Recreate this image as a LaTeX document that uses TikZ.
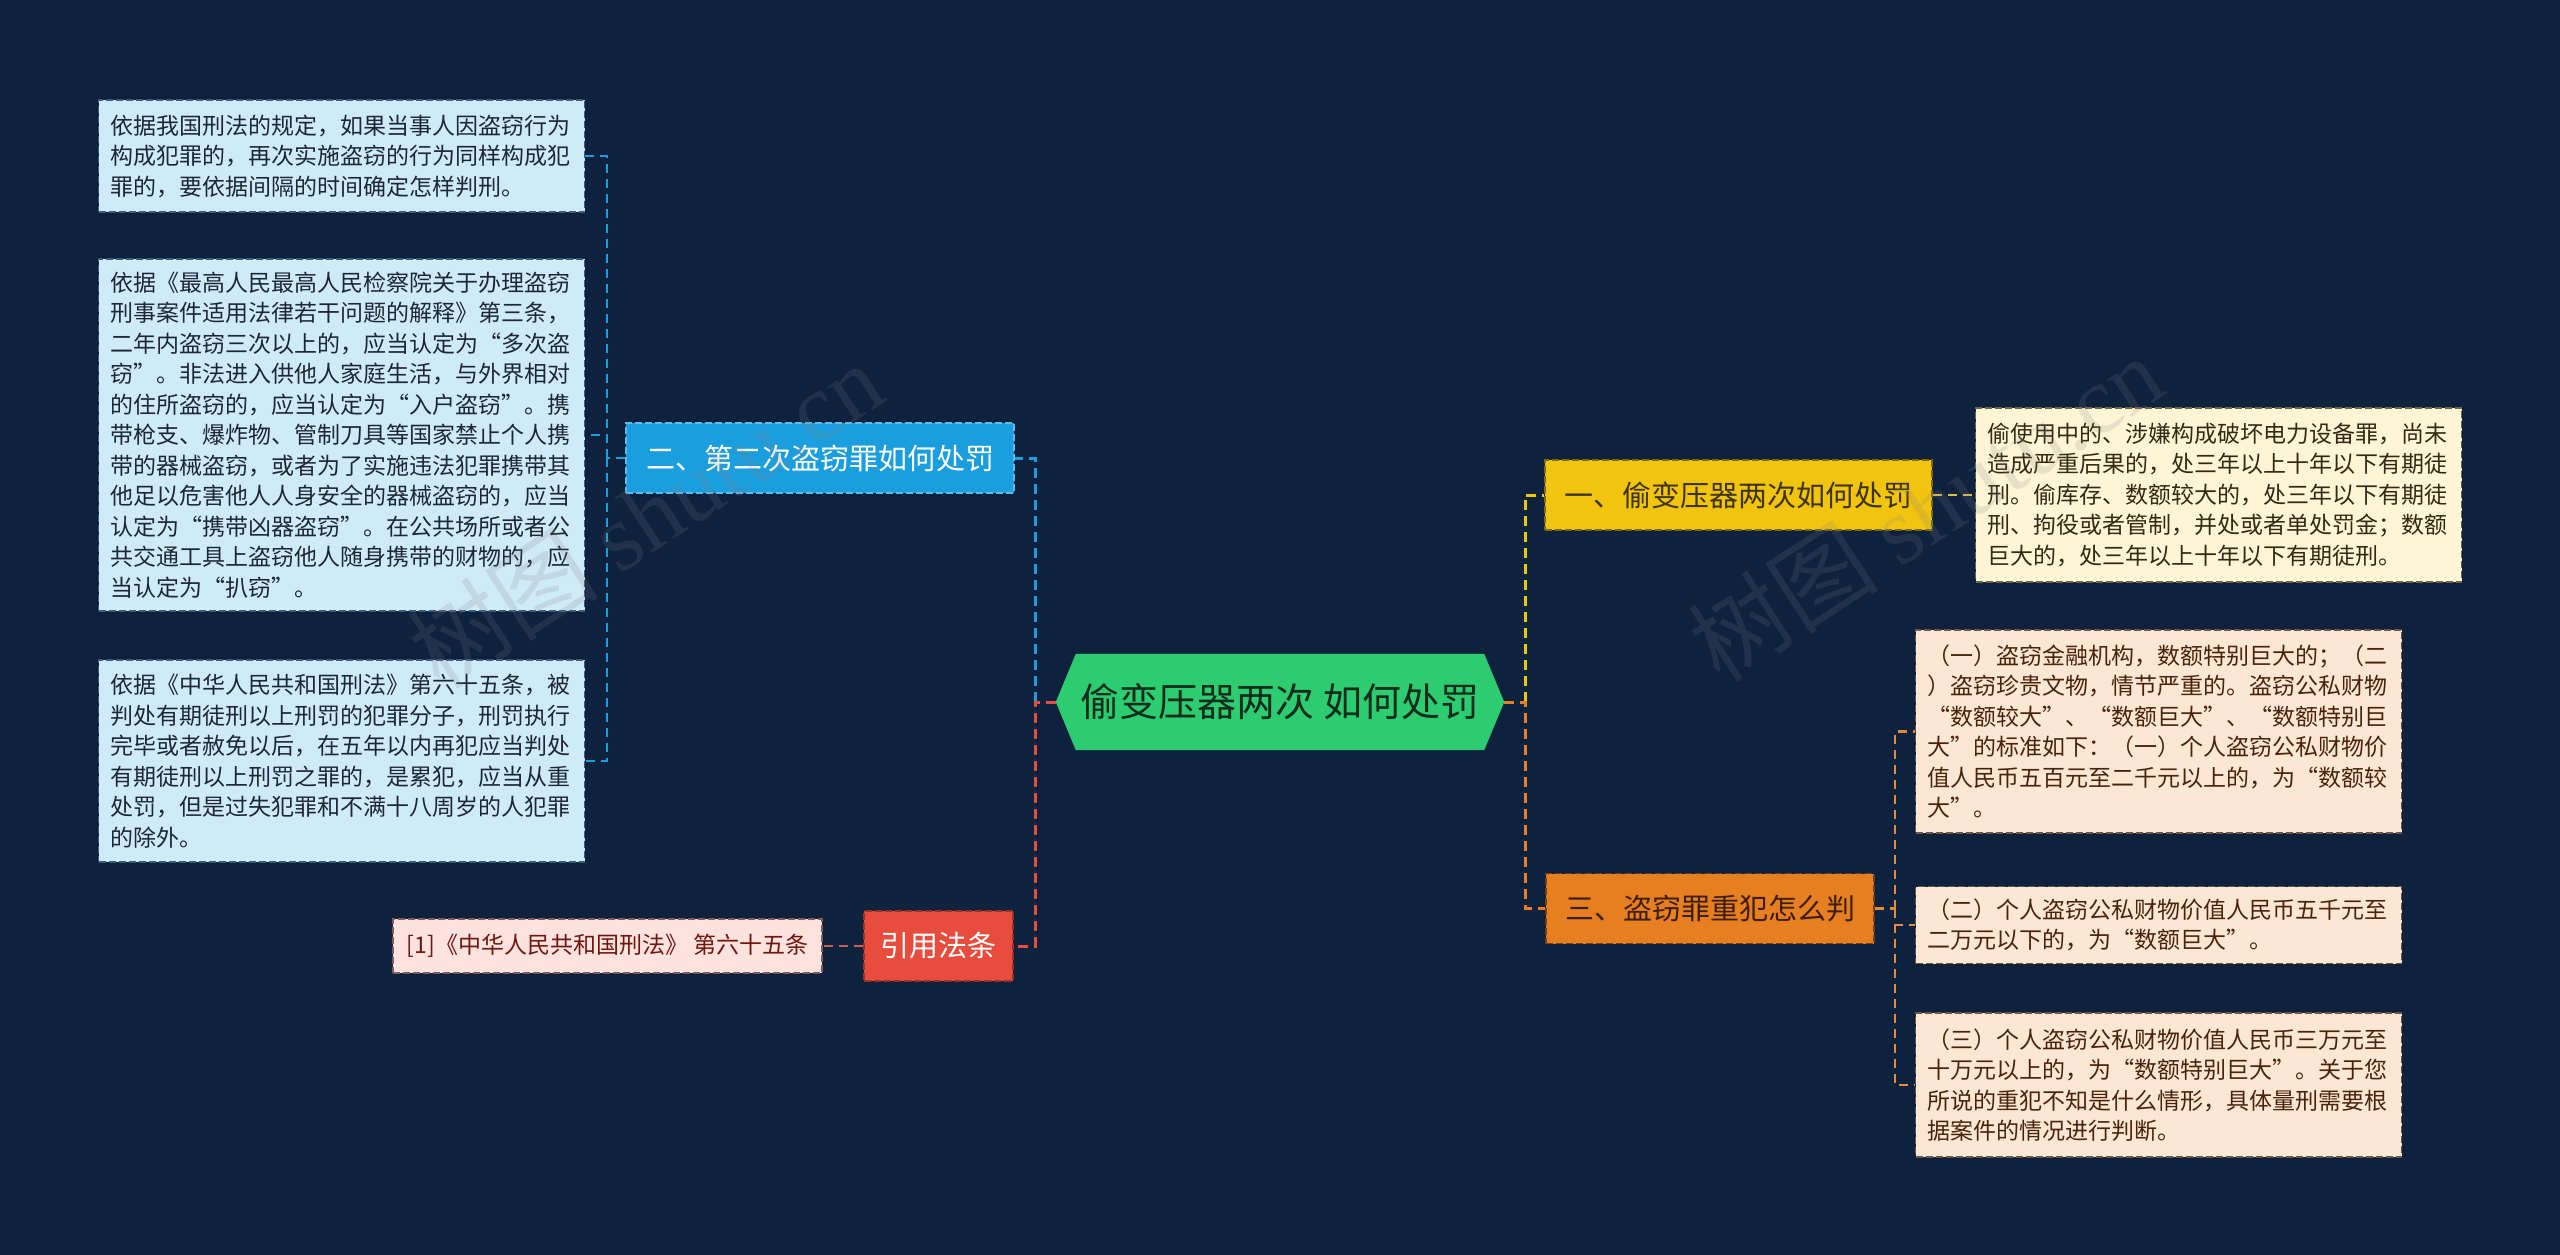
\documentclass[tikz,border=0pt]{standalone}
\usepackage{fontspec}
\setmainfont{Noto Sans CJK SC}
\newfontfamily\wmserif{Liberation Serif}
\usetikzlibrary{backgrounds}
\definecolor{bgnavy}{RGB}{14,34,62}
\definecolor{greenc}{RGB}{46,204,113}
\definecolor{greentext}{RGB}{18,45,28}
\definecolor{bluec}{RGB}{27,158,222}
\definecolor{blueedge}{RGB}{95,185,235}
\definecolor{yellowc}{RGB}{241,196,15}
\definecolor{yellowedge}{RGB}{125,105,20}
\definecolor{yellowtext}{RGB}{62,52,10}
\definecolor{orangec}{RGB}{230,126,34}
\definecolor{orangeedge}{RGB}{115,62,20}
\definecolor{orangetext}{RGB}{62,30,5}
\definecolor{redc}{RGB}{231,76,60}
\definecolor{rededge}{RGB}{150,50,40}
\definecolor{lbluefill}{RGB}{207,235,248}
\definecolor{lblueedge}{RGB}{60,92,122}
\definecolor{lbluetext}{RGB}{30,40,52}
\definecolor{lyelfill}{RGB}{253,245,214}
\definecolor{lyeledge}{RGB}{110,100,70}
\definecolor{lyeltext}{RGB}{50,42,20}
\definecolor{lorfill}{RGB}{252,230,212}
\definecolor{loredge}{RGB}{110,85,70}
\definecolor{lortext}{RGB}{72,36,12}
\definecolor{lredfill}{RGB}{253,226,222}
\definecolor{lrededge}{RGB}{130,90,90}
\definecolor{lredtext}{RGB}{110,22,15}
\definecolor{subyellow}{RGB}{222,190,70}
\definecolor{suborange}{RGB}{225,140,60}
\definecolor{subred}{RGB}{200,95,85}
\begin{document}
\begin{tikzpicture}[x=1pt,y=-1pt,
  leafbase/.style={anchor=west, text width=462pt, align=left, inner xsep=12pt, inner ysep=0pt,
    font=\fontsize{23}{30.5}\selectfont, line width=1.4pt, dash pattern=on 7pt off 3pt},
  leafblue/.style={leafbase, fill=lbluefill, draw=lblueedge, text=lbluetext},
  leafyel/.style={leafbase, fill=lyelfill, draw=lyeledge, text=lyeltext},
  leafor/.style={leafbase, fill=lorfill, draw=loredge, text=lortext},
  leafred/.style={fill=lredfill, draw=lrededge, text=lredtext, inner sep=0pt,
    font=\fontsize{23}{28}\selectfont, line width=1.4pt, dash pattern=on 7pt off 3pt},
  mainbox/.style={minimum height=70pt, inner sep=0pt, font=\fontsize{29}{34}\selectfont,
    line width=1.5pt, dash pattern=on 7pt off 3pt},
  conn/.style={line width=3pt, dash pattern=on 10pt off 6pt},
  subconn/.style={line width=2.5pt, dash pattern=on 9pt off 6pt},
  wmark/.style={text=gray, opacity=0.17, font=\fontsize{96}{96}\selectfont}
]
\begin{scope}[on background layer]
\fill[bgnavy] (0,0) rectangle (2560,1255);
\end{scope}
\useasboundingbox (0,0) rectangle (2560,1255);

% central node
\node[minimum width=448pt, minimum height=96pt, inner sep=0pt, text=greentext,
  font=\fontsize{39}{42}\selectfont] (c) at (1280,702) {偷变压器两次 如何处罚};
\begin{scope}[on background layer]
\fill[greenc] ([xshift=20pt]c.north west) -- ([xshift=-20pt]c.north east) -- (c.east)
  -- ([xshift=-20pt]c.south east) -- ([xshift=20pt]c.south west) -- (c.west) -- cycle;
\end{scope}

% main branches
\node[mainbox, minimum width=388pt, fill=bluec, draw=blueedge, text=white] (blue) at (820,458) {二、第二次盗窃罪如何处罚};
\node[mainbox, minimum width=149pt, fill=redc, draw=rededge, text=white] (red) at (938.5,946) {引用法条};
\node[mainbox, minimum width=387pt, fill=yellowc, draw=yellowedge, text=yellowtext] (yellow) at (1738.5,495) {一、偷变压器两次如何处罚};
\node[mainbox, minimum width=328pt, fill=orangec, draw=orangeedge, text=orangetext] (orange) at (1710,908.5) {三、盗窃罪重犯怎么判};

% left leaves
\node[leafblue, minimum height=112pt] (l1) at (98,156) {依据我国刑法的规定，如果当事人因盗窃行为\\
构成犯罪的，再次实施盗窃的行为同样构成犯\\
罪的，要依据间隔的时间确定怎样判刑。};
\node[leafblue, minimum height=352pt] (l2) at (98,435) {依据《最高人民最高人民检察院关于办理盗窃\\
刑事案件适用法律若干问题的解释》第三条，\\
二年内盗窃三次以上的，应当认定为“多次盗\\
窃”。非法进入供他人家庭生活，与外界相对\\
的住所盗窃的，应当认定为“入户盗窃”。携\\
带枪支、爆炸物、管制刀具等国家禁止个人携\\
带的器械盗窃，或者为了实施违法犯罪携带其\\
他足以危害他人人身安全的器械盗窃的，应当\\
认定为“携带凶器盗窃”。在公共场所或者公\\
共交通工具上盗窃他人随身携带的财物的，应\\
当认定为“扒窃”。};
\node[leafblue, minimum height=202pt] (l3) at (98,761) {依据《中华人民共和国刑法》第六十五条，被\\
判处有期徒刑以上刑罚的犯罪分子，刑罚执行\\
完毕或者赦免以后，在五年以内再犯应当判处\\
有期徒刑以上刑罚之罪的，是累犯，应当从重\\
处罚，但是过失犯罪和不满十八周岁的人犯罪\\
的除外。};
\node[leafred, minimum width=429pt, minimum height=54pt] (rl) at (607.5,946) {[1]《中华人民共和国刑法》 第六十五条};

% right leaves
\node[leafyel, minimum height=174pt] (yl) at (1975,495) {偷使用中的、涉嫌构成破坏电力设备罪，尚未\\
造成严重后果的，处三年以上十年以下有期徒\\
刑。偷库存、数额较大的，处三年以下有期徒\\
刑、拘役或者管制，并处或者单处罚金；数额\\
巨大的，处三年以上十年以下有期徒刑。};
\node[leafor, minimum height=203pt] (oa) at (1915,731.5) {（一）盗窃金融机构，数额特别巨大的；（二\\
）盗窃珍贵文物，情节严重的。盗窃公私财物\\
“数额较大”、“数额巨大”、“数额特别巨\\
大”的标准如下：（一）个人盗窃公私财物价\\
值人民币五百元至二千元以上的，为“数额较\\
大”。};
\node[leafor, minimum height=77pt] (ob) at (1915,925) {（二）个人盗窃公私财物价值人民币五千元至\\
二万元以下的，为“数额巨大”。};
\node[leafor, minimum height=144pt] (oc) at (1915,1085) {（三）个人盗窃公私财物价值人民币三万元至\\
十万元以上的，为“数额特别巨大”。关于您\\
所说的重犯不知是什么情形，具体量刑需要根\\
据案件的情况进行判断。};

% trunk coordinates
\coordinate (lt) at (1035,702);
\coordinate (rt) at (1525,702);
\coordinate (bt) at (607,458);
\coordinate (ot) at (1895,908.5);

% main connectors
\draw[conn, bluec] (lt) |- (blue.east);
\draw[conn, redc] (c.west) -- (lt) |- (red.east);
\draw[conn, yellowc] (rt) |- (yellow.west);
\draw[conn, orangec] (c.east) -- (rt) |- (orange.west);

% sub connectors
\draw[subconn, bluec] (blue.west) -- (bt);
\draw[subconn, bluec] (bt) |- (l1.east);
\draw[subconn, bluec] (bt) |- (l2.east);
\draw[subconn, bluec] (bt) |- (l3.east);
\draw[subconn, subred] (red.west) -- (rl.east);
\draw[subconn, subyellow] (yellow.east) -- (yl.west);
\draw[subconn, suborange] (orange.east) -- (ot);
\draw[subconn, suborange] (ot) |- (oa.west);
\draw[subconn, suborange] (ot) |- (ob.west);
\draw[subconn, suborange] (ot) |- (oc.west);

% watermarks
\node[wmark, rotate=33] (wm1) at (645,515) {树图 {\wmserif shutu.cn}};
\node[wmark, rotate=33] (wm2) at (1925,508) {树图 {\wmserif shutu.cn}};
\end{tikzpicture}
\end{document}
